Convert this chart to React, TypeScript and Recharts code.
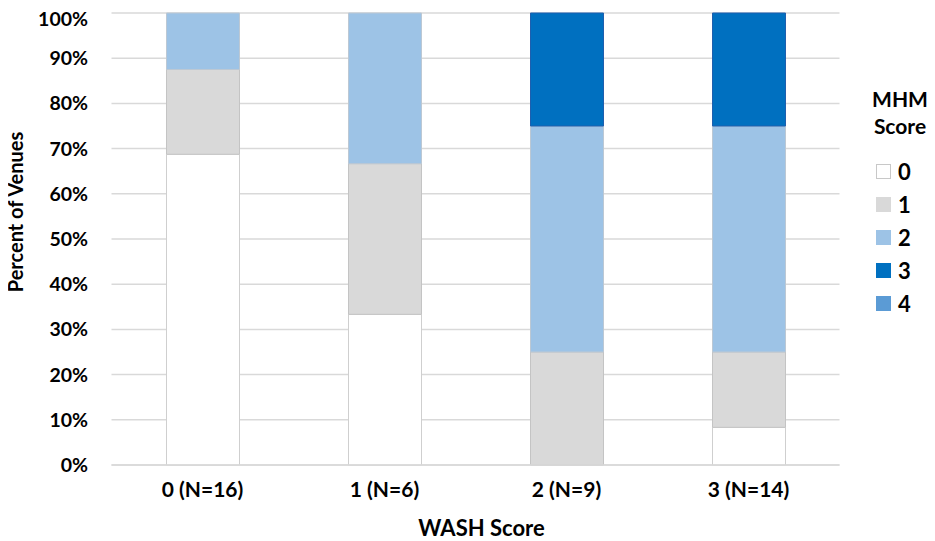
import React from 'react';
import { BarChart, Bar, XAxis, YAxis, CartesianGrid } from 'recharts';

const categories = ['0 (N=16)', '1 (N=6)', '2 (N=9)', '3 (N=14)'];
const score0 = [68.75, 33.33, 0, 8.33];
const score1 = [18.75, 33.33, 25, 16.67];
const score2 = [12.5, 33.34, 50, 50];
const score3 = [0, 0, 25, 25];
const score4 = [0, 0, 0, 0];
const yTicks = [0, 10, 20, 30, 40, 50, 60, 70, 80, 90, 100];

const seriesKeys = ['s0', 's1', 's2', 's3', 's4'];
const seriesNames = ['0', '1', '2', '3', '4'];
const seriesFill = ['#ffffff', '#d9d9d9', '#9dc3e6', '#0070c0', '#5b9bd5'];
const seriesStroke = ['#cfcfcf', '#c4c4c4', '#bcc8d4', '#1f5fae', '#5b9bd5'];

const data = categories.map((c, i) => ({
  name: c,
  s0: score0[i],
  s1: score1[i],
  s2: score2[i],
  s3: score3[i],
  s4: score4[i],
}));

const FONT = 'Lato, "Open Sans", sans-serif';

const LegendBox = () => (
  <div
    style={{
      position: 'absolute',
      left: 857,
      top: 76.5,
      fontFamily: FONT,
      fontWeight: 700,
      color: '#000',
    }}
  >
    <div style={{ width: 70, textAlign: 'center', fontSize: 21, lineHeight: '27px' }}>
      <div>MHM</div>
      <div>Score</div>
    </div>
    <div style={{ marginTop: 16, marginLeft: 11 }}>
      {seriesNames.map((n, i) => (
        <div key={n} style={{ display: 'flex', alignItems: 'center', height: 33 }}>
          <div
            style={{
              width: 13,
              height: 13,
              background: seriesFill[i],
              border: `1px solid ${i === 0 ? '#c8c8c8' : seriesFill[i]}`,
              marginRight: 7,
            }}
          />
          <span style={{ fontSize: 22 }}>{n}</span>
        </div>
      ))}
    </div>
  </div>
);

const YTitle = (props: any) => {
  const vb = props.viewBox || { x: 0, y: 0, width: 0, height: 0 };
  const cx = vb.x + 7;
  const cy = vb.y + vb.height / 2 - 27;
  return (
    <g transform={`translate(${cx}, ${cy}) rotate(-90)`}>
      <text
        x={0}
        y={0}
        textAnchor="middle"
        dominantBaseline="central"
        style={{ fontFamily: FONT, fontWeight: 700, fontSize: 20, fill: '#000' }}
      >
        Percent of Venues
      </text>
    </g>
  );
};

const XTitle = (props: any) => {
  const vb = props.viewBox || { x: 0, y: 0, width: 0, height: 0 };
  const cx = vb.x + vb.width / 2 + 6;
  const cy = vb.y + 62;
  return (
    <text
      x={cx}
      y={cy}
      textAnchor="middle"
      dominantBaseline="central"
      style={{ fontFamily: FONT, fontWeight: 700, fontSize: 22, fill: '#000' }}
    >
      WASH Score
    </text>
  );
};

export default function App() {
  return (
    <div style={{ width: 927, height: 533, position: 'relative' }}>
      <BarChart
        width={927}
        height={533}
        data={data}
        margin={{ top: 5, right: 95.5, bottom: 36, left: 0 }}
      >
        <CartesianGrid vertical={false} stroke="#d9d9d9" strokeWidth={1.5} />
        <XAxis
          dataKey="name"
          height={40}
          tickLine={false}
          tickSize={0}
          tickMargin={17}
          axisLine={{ stroke: '#d9d9d9', strokeWidth: 1.5 }}
          tick={{ fontFamily: FONT, fontWeight: 700, fontSize: 21, fill: '#000' }}
          label={<XTitle />}
        />
        <YAxis
          width={103.5}
          domain={[0, 100]}
          ticks={yTicks}
          tickFormatter={(v: number) => `${v}%`}
          tickLine={false}
          axisLine={false}
          tickSize={0}
          tickMargin={23.5}
          tick={{ fontFamily: FONT, fontWeight: 700, fontSize: 19.5, fill: '#000' }}
          label={<YTitle />}
        />
        {seriesKeys.map((k, i) => (
          <Bar
            key={k}
            dataKey={k}
            name={seriesNames[i]}
            stackId="a"
            fill={seriesFill[i]}
            stroke={seriesStroke[i]}
            strokeWidth={1}
            barSize={73}
            isAnimationActive={false}
          />
        ))}
      </BarChart>
      <LegendBox />
    </div>
  );
}
